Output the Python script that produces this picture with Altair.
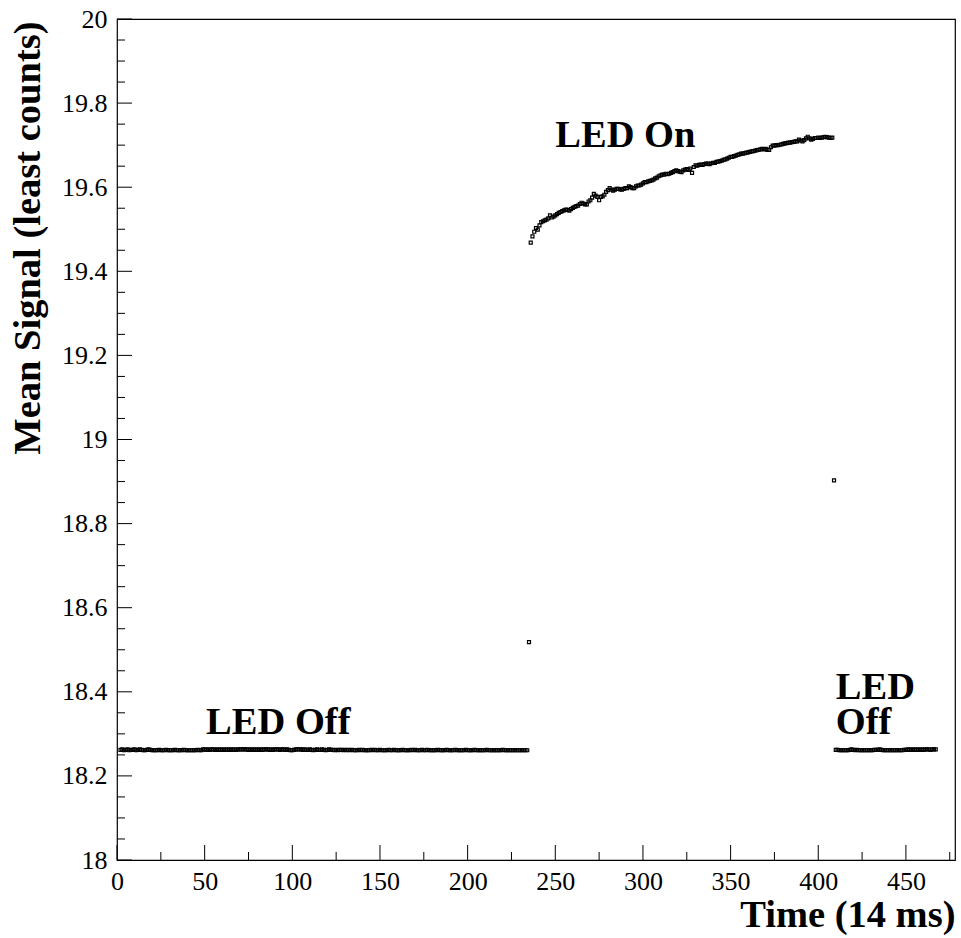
import altair as alt
import pandas as pd

# ---------------- data ----------------
off1_start = 2
off1_y = [
    18.262, 18.263, 18.261, 18.262, 18.263, 18.261, 18.262, 18.262, 18.263, 18.261,
    18.262, 18.263, 18.262, 18.261, 18.261, 18.262, 18.263, 18.262, 18.261, 18.261,
    18.261, 18.261, 18.262, 18.261, 18.261, 18.261, 18.262, 18.261, 18.261, 18.261,
    18.261, 18.262, 18.261, 18.261, 18.261, 18.261, 18.262, 18.261, 18.261, 18.261,
    18.261, 18.261, 18.261, 18.261, 18.262, 18.261, 18.261, 18.263, 18.263, 18.262,
    18.263, 18.262, 18.263, 18.263, 18.262, 18.263, 18.262, 18.263, 18.262, 18.263,
    18.262, 18.263, 18.262, 18.263, 18.262, 18.263, 18.262, 18.263, 18.263, 18.263,
    18.263, 18.263, 18.263, 18.262, 18.263, 18.262, 18.263, 18.262, 18.263, 18.262,
    18.263, 18.262, 18.263, 18.263, 18.263, 18.262, 18.263, 18.262, 18.263, 18.263,
    18.263, 18.262, 18.263, 18.263, 18.262, 18.263, 18.262, 18.261, 18.261, 18.262,
    18.263, 18.263, 18.263, 18.263, 18.262, 18.263, 18.262, 18.262, 18.263, 18.262,
    18.261, 18.262, 18.263, 18.262, 18.262, 18.263, 18.262, 18.261, 18.262, 18.263,
    18.262, 18.262, 18.261, 18.262, 18.261, 18.262, 18.262, 18.261, 18.262, 18.261,
    18.262, 18.261, 18.262, 18.261, 18.261, 18.261, 18.262, 18.261, 18.262, 18.261,
    18.261, 18.261, 18.261, 18.262, 18.261, 18.262, 18.261, 18.261, 18.262, 18.261,
    18.261, 18.261, 18.261, 18.262, 18.261, 18.261, 18.262, 18.261, 18.261, 18.261,
    18.261, 18.262, 18.261, 18.261, 18.261, 18.261, 18.262, 18.261, 18.262, 18.261,
    18.261, 18.261, 18.262, 18.261, 18.261, 18.262, 18.261, 18.261, 18.261, 18.261,
    18.261, 18.262, 18.261, 18.261, 18.261, 18.261, 18.262, 18.261, 18.261, 18.261,
    18.261, 18.262, 18.261, 18.261, 18.261, 18.261, 18.261, 18.262, 18.261, 18.261,
    18.261, 18.261, 18.262, 18.261, 18.261, 18.261, 18.261, 18.261, 18.261, 18.262,
    18.261, 18.261, 18.261, 18.261, 18.261, 18.261, 18.261, 18.261, 18.262, 18.261,
    18.261, 18.261, 18.261, 18.261, 18.261, 18.261, 18.261, 18.261, 18.261, 18.261,
    18.261, 18.261, 18.261,
]

outlier_x = [235, 409]
outlier_y = [18.518, 18.903]

on_start = 236
on_y = [
    19.468, 19.483, 19.494, 19.503, 19.499, 19.509, 19.517, 19.519, 19.521, 19.523,
    19.526, 19.533, 19.528, 19.530, 19.533, 19.536, 19.539, 19.541, 19.543, 19.545,
    19.547, 19.546, 19.544, 19.548, 19.551, 19.553, 19.555, 19.556, 19.560, 19.563,
    19.561, 19.559, 19.559, 19.566, 19.569, 19.575, 19.584, 19.580, 19.577, 19.569,
    19.577, 19.578, 19.582, 19.589, 19.593, 19.598, 19.594, 19.592, 19.594, 19.596,
    19.596, 19.595, 19.594, 19.596, 19.598, 19.598, 19.602, 19.600, 19.598, 19.598,
    19.602, 19.604, 19.604, 19.606, 19.609, 19.612, 19.612, 19.614, 19.615, 19.616,
    19.618, 19.621, 19.623, 19.626, 19.628, 19.630, 19.630, 19.632, 19.631, 19.632,
    19.634, 19.636, 19.638, 19.640, 19.638, 19.637, 19.636, 19.640, 19.642, 19.643,
    19.641, 19.644, 19.634, 19.648, 19.652, 19.651, 19.653, 19.654, 19.653, 19.655,
    19.656, 19.656, 19.655, 19.657, 19.658, 19.658, 19.660, 19.661, 19.662, 19.663,
    19.665, 19.666, 19.668, 19.670, 19.672, 19.672, 19.674, 19.675, 19.677, 19.678,
    19.680, 19.680, 19.681, 19.682, 19.683, 19.684, 19.685, 19.686, 19.687, 19.688,
    19.689, 19.690, 19.691, 19.690, 19.691, 19.689, 19.689, 19.695, 19.699, 19.699,
    19.700, 19.700, 19.701, 19.702, 19.703, 19.704, 19.705, 19.706, 19.706, 19.707,
    19.708, 19.709, 19.709, 19.713, 19.711, 19.709, 19.712, 19.716, 19.720, 19.716,
    19.713, 19.715, 19.717, 19.717, 19.718, 19.717, 19.718, 19.719, 19.720, 19.719,
    19.718, 19.717, 19.718,
]

off2_start = 410
off2_y = [
    18.262, 18.262, 18.261, 18.261, 18.261, 18.261, 18.261, 18.261, 18.262, 18.263,
    18.262, 18.261, 18.262, 18.261, 18.261, 18.261, 18.261, 18.261, 18.261, 18.261,
    18.261, 18.261, 18.262, 18.262, 18.262, 18.263, 18.262, 18.261, 18.261, 18.261,
    18.261, 18.261, 18.261, 18.261, 18.261, 18.261, 18.261, 18.261, 18.261, 18.262,
    18.262, 18.263, 18.262, 18.263, 18.262, 18.263, 18.262, 18.263, 18.262, 18.263,
    18.262, 18.263, 18.263, 18.263, 18.262, 18.263, 18.263, 18.263,
]

x_major = [0, 50, 100, 150, 200, 250, 300, 350, 400, 450]
x_minor = [25, 75, 125, 175, 225, 275, 325, 375, 425, 475]
y_major = [18.0, 18.2, 18.4, 18.6, 18.8, 19.0, 19.2, 19.4, 19.6, 19.8, 20.0]
y_minor = [18.05, 18.1, 18.15, 18.25, 18.3, 18.35, 18.45, 18.5, 18.55,
           18.65, 18.7, 18.75, 18.85, 18.9, 18.95, 19.05, 19.1, 19.15,
           19.25, 19.3, 19.35, 19.45, 19.5, 19.55, 19.65, 19.7, 19.75,
           19.85, 19.9, 19.95]

label_text = ["LED On", "LED Off", "LED", "Off"]
label_x = [290, 92, 410, 410]
label_y = [19.696, 18.299, 18.382, 18.299]
label_align = ["center", "center", "left", "left"]

# ---------------- build tables ----------------
xs = ([off1_start + i for i in range(len(off1_y))] + outlier_x
      + [on_start + i for i in range(len(on_y))]
      + [off2_start + i for i in range(len(off2_y))])
ys = off1_y + outlier_y + on_y + off2_y
pts = pd.DataFrame({"t": xs, "s": ys})

W, H = 838, 841
FONT = "'Liberation Serif', 'Times New Roman', Times, serif"
BIG = 38.5

xscale = alt.Scale(domain=[0, 478], nice=False, zero=False)
yscale = alt.Scale(domain=[18, 20], nice=False, zero=False)

xaxis = alt.Axis(values=x_major, title="Time (14 ms)", grid=False, domain=False,
                 ticks=False, labelFont=FONT, labelFontSize=26, labelColor="black",
                 labelPadding=8, labelFlush=False,
                 titleFont=FONT, titleFontSize=BIG, titleFontWeight="bold",
                 titleColor="black", titleAnchor="end", titleAlign="right",
                 titleBaseline="alphabetic", titleX=W, titleY=66)
yaxis = alt.Axis(values=y_major, title="Mean Signal (least counts)", grid=False,
                 domain=False, ticks=False, labelFont=FONT, labelFontSize=26,
                 labelColor="black", labelPadding=10, labelFlush=False,
                 labelExpr="format(datum.value, '.10~g')",
                 titleFont=FONT, titleFontSize=BIG, titleFontWeight="bold",
                 titleColor="black", titleAngle=-90, titleAlign="right",
                 titleBaseline="alphabetic", titleX=-78, titleY=2)


def X(field):
    return alt.X(field, type="quantitative", scale=xscale, axis=xaxis)


def Y(field):
    return alt.Y(field, type="quantitative", scale=yscale, axis=yaxis)


points = alt.Chart(pts).mark_point(shape="square", filled=False, size=9,
                                   strokeWidth=1.2, color="black", opacity=1).encode(
    x=X("t"), y=Y("s"),
)


def xticks(vals, length):
    return alt.Chart(pd.DataFrame({"t": vals})).mark_rule(color="black", strokeWidth=1).encode(
        x=X("t"), y=alt.value(H), y2=alt.value(H - length))


def yticks(vals, length):
    return alt.Chart(pd.DataFrame({"s": vals})).mark_rule(color="black", strokeWidth=1).encode(
        y=Y("s"), x=alt.value(0), x2=alt.value(length))


labels_df = pd.DataFrame({"text": label_text, "t": label_x, "s": label_y, "align": label_align})
lab_c = alt.Chart(labels_df[labels_df["align"] == "center"]).mark_text(
    font=FONT, fontSize=BIG, fontWeight="bold", color="black", align="center",
    baseline="alphabetic").encode(x=X("t"), y=Y("s"), text="text:N")
lab_l = alt.Chart(labels_df[labels_df["align"] == "left"]).mark_text(
    font=FONT, fontSize=BIG, fontWeight="bold", color="black", align="left",
    baseline="alphabetic").encode(x=X("t"), y=Y("s"), text="text:N")

chart = alt.layer(
    points, xticks(x_major, 15), xticks(x_minor, 8), yticks(y_major, 15), yticks(y_minor, 8),
    lab_c, lab_l,
).properties(
    width=W, height=H,
    padding={"left": 117, "top": 19, "right": 6, "bottom": 78},
    autosize=alt.AutoSizeParams(type="none"),
    background="white",
).configure_view(stroke="black", strokeWidth=1.2)

chart.save("out.html", embed_options={"renderer": "svg", "actions": False})
